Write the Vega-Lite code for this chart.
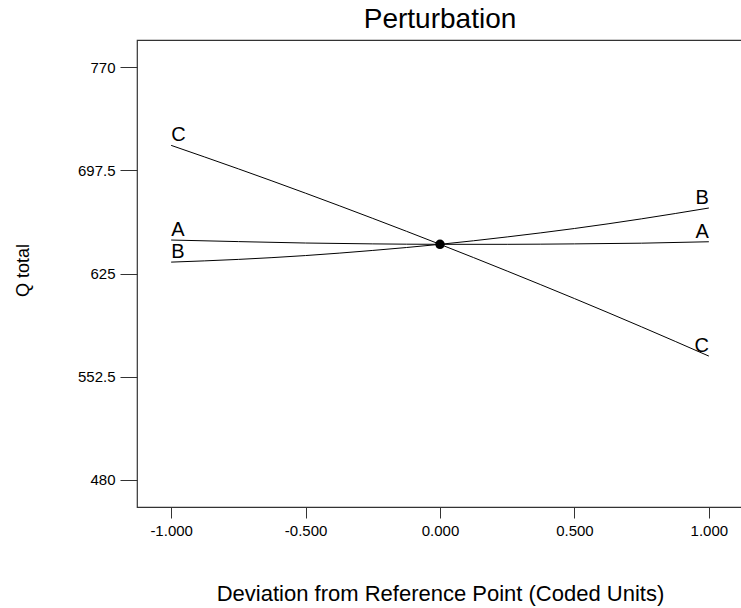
{
  "$schema": "https://vega.github.io/schema/vega-lite/v6.json",
  "autosize": {"type": "none"},
  "padding": {"left": 137, "top": 40, "right": 0, "bottom": 101},
  "width": 606,
  "height": 467,
  "background": "white",
  "config": {
    "font": "Liberation Sans",
    "view": {"stroke": "#333333", "strokeWidth": 1.2}
  },
  "title": {
    "text": "Perturbation",
    "fontSize": 28,
    "fontWeight": "normal",
    "font": "Liberation Sans",
    "color": "black",
    "anchor": "middle",
    "baseline": "bottom",
    "offset": -22
  },
  "datasets": {
    "curves": [
      {"factor": "A", "x": -1, "q": 648.5},
      {"factor": "A", "x": -0.75, "q": 647.4},
      {"factor": "A", "x": -0.5, "q": 646.4},
      {"factor": "A", "x": -0.25, "q": 645.8},
      {"factor": "A", "x": 0, "q": 645.5},
      {"factor": "A", "x": 0.25, "q": 645.5},
      {"factor": "A", "x": 0.5, "q": 645.8},
      {"factor": "A", "x": 0.75, "q": 646.3},
      {"factor": "A", "x": 1, "q": 647.3},
      {"factor": "B", "x": -1, "q": 633.0},
      {"factor": "B", "x": -0.75, "q": 634.9},
      {"factor": "B", "x": -0.5, "q": 637.6},
      {"factor": "B", "x": -0.25, "q": 641.2},
      {"factor": "B", "x": 0, "q": 645.5},
      {"factor": "B", "x": 0.25, "q": 650.7},
      {"factor": "B", "x": 0.5, "q": 656.6},
      {"factor": "B", "x": 0.75, "q": 663.4},
      {"factor": "B", "x": 1, "q": 671.0},
      {"factor": "C", "x": -1, "q": 715.0},
      {"factor": "C", "x": -0.75, "q": 698.5},
      {"factor": "C", "x": -0.5, "q": 681.4},
      {"factor": "C", "x": -0.25, "q": 663.7},
      {"factor": "C", "x": 0, "q": 645.5},
      {"factor": "C", "x": 0.25, "q": 626.7},
      {"factor": "C", "x": 0.5, "q": 607.4},
      {"factor": "C", "x": 0.75, "q": 587.5},
      {"factor": "C", "x": 1, "q": 567.0}
    ],
    "labels": [
      {"factor": "A", "side": "left", "x": -1, "q": 648.5},
      {"factor": "B", "side": "left", "x": -1, "q": 633.0},
      {"factor": "C", "side": "left", "x": -1, "q": 715.0},
      {"factor": "A", "side": "right", "x": 1, "q": 647.3},
      {"factor": "B", "side": "right", "x": 1, "q": 671.0},
      {"factor": "C", "side": "right", "x": 1, "q": 567.0}
    ],
    "center": [{"x": 0, "q": 645.5}]
  },
  "encoding": {
    "x": {
      "field": "x",
      "type": "quantitative",
      "scale": {"domain": [-1.127, 1.127], "nice": false, "zero": false},
      "axis": {
        "title": "Deviation from Reference Point (Coded Units)",
        "titleFont": "Liberation Sans",
        "titleFontSize": 22,
        "titleFontWeight": "normal",
        "titleColor": "black",
        "titleBaseline": "middle",
        "titleY": 86,
        "values": [-1, -0.5, 0, 0.5, 1],
        "labelExpr": "replace(format(datum.value, '.3f'), '\u2212', '-')",
        "labelFontSize": 15,
        "labelColor": "black",
        "labelPadding": 5,
        "tickSize": 11,
        "tickColor": "#333333",
        "domain": false,
        "grid": false
      }
    },
    "y": {
      "field": "q",
      "type": "quantitative",
      "scale": {"domain": [461, 789], "nice": false, "zero": false},
      "axis": {
        "title": "Q total",
        "titleFont": "Liberation Sans",
        "titleFontSize": 18,
        "titleFontWeight": "normal",
        "titleColor": "black",
        "titleAngle": -90,
        "titleAlign": "center",
        "titleBaseline": "middle",
        "titleX": -114,
        "titleY": 230,
        "values": [480, 552.5, 625, 697.5, 770],
        "labelExpr": "'' + datum.value",
        "labelFontSize": 15,
        "labelColor": "black",
        "labelPadding": 5,
        "tickSize": 17,
        "tickColor": "#333333",
        "domain": false,
        "grid": false
      }
    }
  },
  "layer": [
    {
      "data": {"name": "curves"},
      "mark": {"type": "line", "color": "black", "strokeWidth": 1, "interpolate": "monotone"},
      "encoding": {"detail": {"field": "factor"}}
    },
    {
      "data": {"name": "labels"},
      "transform": [{"filter": "datum.side === 'left'"}],
      "mark": {"type": "text", "align": "left", "baseline": "alphabetic", "dy": -4, "fontSize": 20, "color": "black", "font": "Liberation Sans"},
      "encoding": {"text": {"field": "factor"}}
    },
    {
      "data": {"name": "labels"},
      "transform": [{"filter": "datum.side === 'right'"}],
      "mark": {"type": "text", "align": "right", "baseline": "alphabetic", "dy": -4, "fontSize": 20, "color": "black", "font": "Liberation Sans"},
      "encoding": {"text": {"field": "factor"}}
    },
    {
      "data": {"name": "center"},
      "mark": {"type": "point", "filled": true, "color": "black", "size": 90, "opacity": 1}
    }
  ]
}
